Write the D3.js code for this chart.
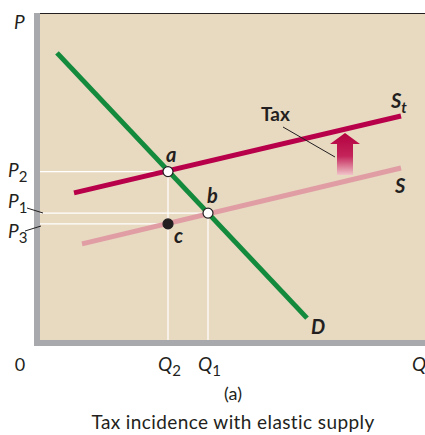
<!DOCTYPE html>
<html>
<head>
  <title>Tax incidence with elastic supply</title>
  <script src="https://d3js.org/d3.v7.min.js"></script>
  <style>
    body { margin: 0; background: #fff; }
    text { font-family: Lato, "Open Sans", sans-serif; fill: #231f20; }
  </style>
</head>
<body>
  <div id="chart"></div>
  <script>
    // values (Q and P on a 0-100 scale)
    const demand = [{q: 4.25, p: 87.8}, {q: 66.75, p: 6.7}];
    const supply = [{q: 10.5, p: 29.4}, {q: 90.25, p: 52.6}];
    const supplyTax = [{q: 8.5, p: 45}, {q: 90.25, p: 68.5}];
    const points = [
      {name: "a", q: 32, p: 51.5, open: true},
      {name: "b", q: 42, p: 38.8, open: true},
      {name: "c", q: 32, p: 35.5, open: false}
    ];
    const priceTicks = [{label: "2", p: 51.5}, {label: "1", p: 38.8}, {label: "3", p: 35.5}];
    const qtyTicks = [{label: "2", q: 32}, {label: "1", q: 42}];

    const W = 425, H = 435;
    const svg = d3.select("#chart").append("svg").attr("width", W).attr("height", H);

    const x = d3.scaleLinear().domain([0, 100]).range([40, 440]);
    const y = d3.scaleLinear().domain([0, 100]).range([340, 13]);

    // panel
    svg.append("rect").attr("x", 40).attr("y", 13).attr("width", W - 40).attr("height", 327)
      .attr("fill", "#e8d9c1");
    svg.append("line").attr("x1", 34).attr("x2", W).attr("y1", 13.5).attr("y2", 13.5)
      .attr("stroke", "#231f20").attr("stroke-width", 1.2);
    svg.append("rect").attr("x", 34).attr("y", 13).attr("width", 6).attr("height", 333).attr("fill", "#a7a9ac");
    svg.append("rect").attr("x", 34).attr("y", 340).attr("width", W - 34).attr("height", 6).attr("fill", "#a7a9ac");

    // guide lines
    const g = svg.append("g").attr("stroke", "#fff").attr("stroke-width", 1.2);
    priceTicks.forEach(t => {
      const pt = points.find(d => Math.abs(d.p - t.p) < 0.01);
      g.append("line").attr("x1", 40).attr("x2", x(pt.q)).attr("y1", y(t.p)).attr("y2", y(t.p));
    });
    qtyTicks.forEach(t => {
      const top = d3.max(points.filter(d => d.q === t.q), d => d.p);
      g.append("line").attr("x1", x(t.q)).attr("x2", x(t.q)).attr("y1", y(top)).attr("y2", 340);
    });

    const line = d3.line().x(d => x(d.q)).y(d => y(d.p));
    svg.append("path").datum(supply).attr("d", line).attr("fill", "none")
      .attr("stroke", "#e09ea4").attr("stroke-width", 5);
    svg.append("path").datum(supplyTax).attr("d", line).attr("fill", "none")
      .attr("stroke", "#b8004a").attr("stroke-width", 5);
    svg.append("path").datum(demand).attr("d", line).attr("fill", "none")
      .attr("stroke", "#138a3c").attr("stroke-width", 5);

    // tax arrow
    const defs = svg.append("defs");
    const grad = defs.append("linearGradient").attr("id", "arrowGrad")
      .attr("x1", 0).attr("y1", 0).attr("x2", 0).attr("y2", 1);
    grad.append("stop").attr("offset", "0%").attr("stop-color", "#b3003f");
    grad.append("stop").attr("offset", "55%").attr("stop-color", "#c4245a");
    grad.append("stop").attr("offset", "100%").attr("stop-color", "#f0c4c8");
    svg.append("path")
      .attr("d", "M345,133 L360,144 L353,144 L353,175 L337,175 L337,144 L330,144 Z")
      .attr("fill", "url(#arrowGrad)");

    svg.append("line").attr("x1", 283).attr("y1", 127).attr("x2", 335).attr("y2", 157)
      .attr("stroke", "#231f20").attr("stroke-width", 1);
    svg.append("text").attr("x", 261).attr("y", 121).attr("font-size", 19).attr("font-weight", 700).text("Tax");

    // points
    svg.selectAll("circle.pt").data(points).join("circle")
      .attr("cx", d => x(d.q)).attr("cy", d => y(d.p)).attr("r", 5)
      .attr("fill", d => d.open ? "#fff" : "#231f20")
      .attr("stroke", "#231f20").attr("stroke-width", 1.2);

    const bi = (xx, yy, t, fs) => svg.append("text").attr("x", xx).attr("y", yy)
      .attr("font-size", fs || 20).attr("font-weight", 700).attr("font-style", "italic").text(t);
    bi(166, 162, "a");
    bi(207, 203, "b");
    bi(174, 243, "c");
    bi(311, 334, "D");
    bi(395, 193, "S");
    const st = bi(391, 108, "S");
    st.append("tspan").attr("dy", 5).attr("font-size", 15).text("t");

    // axis labels
    const it = (xx, yy, t, sub, fs) => {
      const tx = svg.append("text").attr("x", xx).attr("y", yy).attr("font-size", fs || 19)
        .attr("font-style", "italic").text(t);
      if (sub) tx.append("tspan").attr("dy", 5).attr("font-size", 15).attr("font-style", "normal").text(sub);
      return tx;
    };
    it(14, 29, "P");
    it(8, 177, "P", priceTicks[0].label);
    it(8, 208, "P", priceTicks[1].label);
    it(8, 238, "P", priceTicks[2].label);
    svg.append("line").attr("x1", 27).attr("y1", 208).attr("x2", 43).attr("y2", 213)
      .attr("stroke", "#231f20").attr("stroke-width", 1);
    svg.append("line").attr("x1", 25).attr("y1", 231).attr("x2", 41).attr("y2", 226)
      .attr("stroke", "#231f20").attr("stroke-width", 1);

    svg.append("text").attr("x", 20).attr("y", 371).attr("font-size", 18).attr("text-anchor", "middle").text("0");
    qtyTicks.forEach(t => {
      it(x(t.q) - 10, 371, "Q", t.label);
    });
    it(412, 371, "Q");

    svg.append("text").attr("x", 233).attr("y", 400).attr("font-size", 18).attr("text-anchor", "middle").text("(a)");
    svg.append("text").attr("x", 233).attr("y", 429).attr("font-size", 19).attr("letter-spacing", 0.4)
      .attr("text-anchor", "middle").text("Tax incidence with elastic supply");
  </script>
</body>
</html>
